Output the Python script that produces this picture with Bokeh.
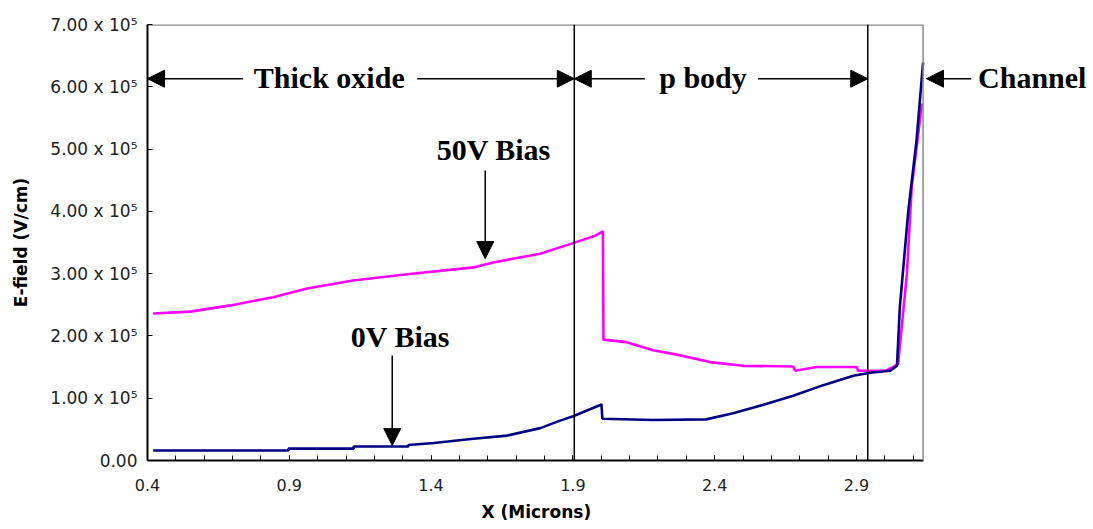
from bokeh.plotting import figure
from bokeh.models import Range1d, FixedTicker, Label, Arrow, NormalHead, Span, Title
from bokeh.embed import file_html
from bokeh.resources import INLINE

# ---- data ----
x_50v = [0.42, 0.551, 0.692, 0.843, 0.963, 1.125, 1.316, 1.549, 1.619, 1.785, 1.901,
         1.979, 2.006, 2.008, 2.09, 2.183, 2.267, 2.384, 2.50, 2.677, 2.684, 2.76,
         2.901, 2.906, 3.001, 3.029, 3.047, 3.078, 3.095, 3.131]
y_50v = [2.36e5, 2.39e5, 2.49e5, 2.62e5, 2.76e5, 2.89e5, 2.99e5, 3.10e5, 3.18e5, 3.32e5, 3.49e5,
         3.61e5, 3.68e5, 1.94e5, 1.90e5, 1.77e5, 1.70e5, 1.58e5, 1.52e5, 1.51e5, 1.44e5, 1.50e5,
         1.50e5, 1.44e5, 1.44e5, 1.50e5, 1.55e5, 3.00e5, 4.39e5, 5.73e5]

x_0v = [0.42, 0.897, 0.897, 1.127, 1.127, 1.32, 1.32, 1.41, 1.549, 1.668, 1.785, 1.855,
        1.901, 2.001, 2.004, 2.183, 2.37, 2.465, 2.584, 2.677, 2.783, 2.889, 2.949,
        3.019, 3.043, 3.053, 3.083, 3.112, 3.135]
y_0v = [0.16e5, 0.16e5, 0.19e5, 0.19e5, 0.225e5, 0.225e5, 0.25e5, 0.28e5, 0.35e5, 0.40e5, 0.52e5, 0.64e5,
        0.71e5, 0.90e5, 0.67e5, 0.65e5, 0.66e5, 0.76e5, 0.91e5, 1.04e5, 1.21e5, 1.36e5, 1.41e5,
        1.44e5, 1.52e5, 2.46e5, 4.01e5, 5.14e5, 6.39e5]

x_ticks = [0.4, 0.9, 1.4, 1.9, 2.4, 2.9]
x_minor = [0.4, 0.5, 0.6, 0.7, 0.8, 0.9, 1.0, 1.1, 1.2, 1.3, 1.4, 1.5, 1.6, 1.7, 1.8, 1.9,
           2.0, 2.1, 2.2, 2.3, 2.4, 2.5, 2.6, 2.7, 2.8, 2.9, 3.0, 3.1]
y_ticks = [0, 100000, 200000, 300000, 400000, 500000, 600000, 700000]
y_tick_labels = ["0.00", "1.00 x 10\u2075", "2.00 x 10\u2075", "3.00 x 10\u2075", "4.00 x 10\u2075",
                 "5.00 x 10\u2075", "6.00 x 10\u2075", "7.00 x 10\u2075"]

x_min, x_max = 0.4, 3.135
y_min, y_max = 0, 7e5
region_bounds = [1.905, 2.94]

# frame extends to the right edge so that the "Channel" note is not clipped
p = figure(width=1093, height=529, output_backend="svg", toolbar_location=None,
           x_range=Range1d(x_min, 3.736), y_range=Range1d(y_min, y_max),
           min_border_left=147, min_border_right=0, min_border_top=24, min_border_bottom=69)
p.background_fill_color = "white"
p.border_fill_color = "white"
p.outline_line_color = None
p.xgrid.visible = False
p.ygrid.visible = False

# axes
p.xaxis.ticker = FixedTicker(ticks=x_ticks, minor_ticks=x_minor)
p.yaxis.ticker = FixedTicker(ticks=y_ticks, minor_ticks=[])
p.yaxis.major_label_overrides = {t: l for t, l in zip(y_ticks, y_tick_labels)}
p.xaxis.bounds = (x_min, x_max)
for ax in (p.xaxis, p.yaxis):
    ax.axis_line_color = "black"
    ax.axis_line_width = 2
    ax.major_tick_in = 5
    ax.major_tick_out = 0
    ax.minor_tick_in = 5
    ax.minor_tick_out = 0
    ax.major_tick_line_color = "black"
    ax.minor_tick_line_color = "black"
    ax.major_label_text_font = "DejaVu Sans"
    ax.major_label_text_font_size = "16px"
    ax.major_label_text_color = "#222222"
    ax.axis_label_text_font = "DejaVu Sans"
    ax.axis_label_text_font_style = "bold"
    ax.axis_label_text_font_size = "17px"
    ax.axis_label_text_color = "black"
p.yaxis.major_label_text_font_size = "17px"
p.xaxis.major_label_standoff = 18
p.yaxis.major_label_standoff = 10
p.yaxis.axis_label = "E-field (V/cm)"
p.yaxis.axis_label_standoff = 16

# x-axis title placed under the plotted region (frame is wider than the data area)
xt = Title(text="X (Microns)", align="left", offset=334, standoff=12,
           text_font="DejaVu Sans", text_font_style="bold", text_font_size="17px",
           text_color="black")
p.add_layout(xt, "below")

# frame border (top and right, gray)
p.add_layout(Span(location=x_max, dimension="height", line_color="#8a8a8a", line_width=1.5))
p.line([x_min, x_max], [y_max, y_max], line_color="#8a8a8a", line_width=2.5)

# region boundaries
for b in region_bounds:
    p.add_layout(Span(location=b, dimension="height", line_color="black", line_width=1.5))

# curves
p.line(x_50v, y_50v, line_color="#FF00FF", line_width=2.6)
p.line(x_0v, y_0v, line_color="#000080", line_width=2.6)

# annotations
serif = "Liberation Serif"
def lbl(x, y, t, align="center"):
    p.add_layout(Label(x=x, y=y, text=t, text_font=serif, text_font_style="bold",
                       text_font_size="30px", text_align=align, text_baseline="alphabetic",
                       text_color="black"))

def arr(x0, y0, x1, y1):
    p.add_layout(Arrow(end=NormalHead(size=17, fill_color="black", line_color="black"),
                       x_start=x0, y_start=y0, x_end=x1, y_end=y1,
                       line_color="black", line_width=1.5))

ya = 6.13e5
yb = 6.145e5
arr(0.737, ya, 0.4, ya)
arr(1.351, ya, 1.905, ya)
lbl(1.041, yb, "Thick oxide")
arr(2.154, ya, 1.905, ya)
arr(2.553, ya, 2.94, ya)
lbl(2.359, yb, "p body")
arr(3.305, ya, 3.147, ya)
lbl(3.52, yb, "Channel")

lbl(1.621, 4.995e5, "50V Bias")
arr(1.591, 4.655e5, 1.591, 3.242e5)
lbl(1.292, 1.99e5, "0V Bias")
arr(1.263, 1.685e5, 1.263, 0.241e5)

open("out.html", "w").write(file_html(p, INLINE))
